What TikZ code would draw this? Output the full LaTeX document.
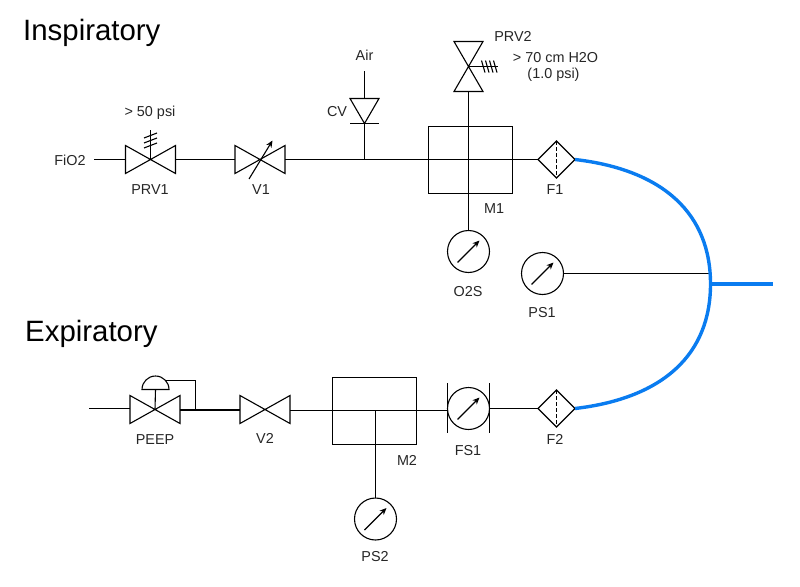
\documentclass[tikz,border=0pt]{standalone}
\usepackage{fontspec}
\setmainfont{Liberation Sans}
\usetikzlibrary{shapes.geometric,arrows.meta}
\definecolor{tubeblue}{HTML}{0A7CF0}
\tikzset{
  line/.style={line width=1.1pt,black},
  lbl/.style={font=\fontsize{14.4}{15}\selectfont,text=black!85,inner sep=0pt,align=center,anchor=base},
  ttl/.style={font=\fontsize{29.4}{32}\selectfont,text=black,inner sep=0pt,anchor=west},
  vbox/.style={minimum width=50pt,minimum height=28pt,inner sep=0pt,outer sep=0pt},
  vboxr/.style={minimum width=29pt,minimum height=50pt,inner sep=0pt,outer sep=0pt},
  mixer/.style={draw,line,inner sep=0pt,outer sep=0pt},
  gauge/.style={draw,line,circle,minimum size=42pt,inner sep=0pt,outer sep=0pt},
  filt/.style={draw,line,diamond,aspect=1,minimum size=37pt,inner sep=0pt,outer sep=0pt},
  tube/.style={line width=3.4pt,color=tubeblue},
  needle/.style={line,-{Stealth[length=7pt,width=6pt]}}
}
\newcommand{\vlv}[3]{% name, x, y
  \node[vbox] (#1) at (#2,#3) {};
  \draw[line,line join=miter] (#1.south west) -- (#1.north east) -- (#1.south east) -- (#1.north west) -- cycle;
}
\newcommand{\gaugeat}[3]{% name, x, y
  \node[gauge] (#1) at (#2,#3) {};
  \draw[needle] ([xshift=-11pt,yshift=-11pt]#1.center) -- ([xshift=11pt,yshift=11pt]#1.center);
}
\newcommand{\filterat}[3]{% name, x, y
  \node[filt] (#1) at (#2,#3) {};
  \draw[line,dash pattern=on 3.5pt off 2.5pt] (#1.north) -- (#1.south);
}
\begin{document}
\begin{tikzpicture}[x=1pt,y=-1pt]
\useasboundingbox (0,0) rectangle (800,586);
% titles
\node[ttl] at (23,33) {Inspiratory};
\node[ttl] at (25,334) {Expiratory};
% --- inspiratory valves
\coordinate (fio2) at (94,159.5);
\vlv{prv1}{150.5}{159.5}
\vlv{v1}{260}{159.5}
\draw[line] (prv1.center) -- (150.5,130);
\foreach \yy in {133,138,143}{\draw[line] (144,\yy+5) -- (157,\yy);}
\draw[line,-{Stealth[length=7pt,width=6pt]}] (249,179) -- (272.5,140.5);
\draw[line] (fio2) -- (prv1.west);
\draw[line] (prv1.east) -- (v1.west);
% M1 and through lines
\node[mixer,minimum width=84pt,minimum height=67pt] (m1) at (470.5,160) {};
\filterat{f1}{556.5}{159.5}
\draw[line] (v1.east) -- (f1.west);
% CV
\coordinate (air) at (364.5,71);
\node[vbox,minimum width=29pt,minimum height=25pt] (cv) at (364.5,111) {};
\draw[line] (cv.north west) -- (cv.north east) -- (cv.south) -- cycle;
\draw[line] (cv.south west) -- (cv.south east);
\draw[line] (air) -- (cv.north);
\coordinate (cvj) at (364.5,159.5);
\draw[line] (cv.south) -- (cvj);
% PRV2
\node[vboxr] (prv2) at (468.5,66.5) {};
\draw[line] (prv2.north west) -- (prv2.north east) -- (prv2.south west) -- (prv2.south east) -- cycle;
\coordinate (prv2s) at (498,66.5);
\draw[line] (prv2.center) -- (prv2s);
\foreach \xx in {481.5,485.5,489.5,493.5}{\draw[line] (\xx,60.5) -- (\xx+3.5,72.5);}
% O2S
\gaugeat{o2s}{468.5}{251.5}
\draw[line] (prv2.south) -- (o2s.north);
% PS1
\gaugeat{ps1}{542.5}{273.5}
% breathing circuit
\filterat{f2}{556.5}{408.5}
\coordinate (ywye) at (710.5,284);
\coordinate (pj) at (710,273.5);
\coordinate (out) at (773,284);
\draw[line] (ps1.east) -- (pj);
\draw[tube] (f1.east) .. controls (665,170) and (710.5,215) .. (ywye) .. controls (710.5,353) and (665,398) .. (f2.east);
\draw[tube] (ywye) -- (out);
% --- expiratory
\coordinate (exin) at (89,408.5);
\vlv{peep}{155}{409.5}
\vlv{v2}{265}{409.5}
\draw[line] (exin) -- (exin -| peep.west);
\draw[line,line width=2pt] (peep.east) -- (v2.west);
\node[inner sep=0pt,outer sep=0pt,minimum width=27pt,minimum height=14pt] (dome) at (155.5,382.5) {};
\draw[line] (dome.south west) arc[start angle=180,end angle=0,radius=13.5pt] -- cycle;
\draw[line] (dome.south) -- (peep.center);
\coordinate (fb) at (195.5,380.5);
\coordinate (fbd) at (195.5,409.5);
\draw[line] (166,380.5) -- (fb) -- (fbd);
% M2
\node[mixer,minimum width=84pt,minimum height=67pt] (m2) at (374.5,411) {};
\gaugeat{fs1}{468.5}{408.5}
\coordinate (fsl) at (447.5,410.5);
\draw[line] (v2.east |- fsl) -- (fsl);
\draw[line] (447.5,383) -- (447.5,433);
\draw[line] (489.5,383) -- (489.5,433);
\draw[line] (fs1.east) -- (f2.west);
\gaugeat{ps2}{375.5}{519}
\coordinate (m2j) at (375.5,410.5);
\draw[line] (m2j) -- (ps2.north);
% labels
\node[lbl] (lfio2) at (70,165.3) {FiO2};
\node[lbl] (lp50) at (150,116.5) {> 50 psi};
\node[lbl] (lprv1) at (150,194.3) {PRV1};
\node[lbl] (lv1) at (261,194.3) {V1};
\node[lbl] (lair) at (364.5,60.5) {Air};
\node[lbl] (lcv) at (337,116.5) {CV};
\node[lbl] (lprv2) at (513,42) {PRV2};
\node[lbl] (l70a) at (555.5,62.7) {> 70 cm H2O};
\node[lbl] (l70b) at (553.5,78.2) {(1.0 psi)};
\node[lbl] (lm1) at (494,213) {M1};
\node[lbl] (lf1) at (555,194.3) {F1};
\node[lbl] (lo2s) at (468,296) {O2S};
\node[lbl] (lps1) at (542,317) {PS1};
\node[lbl] (lpeep) at (155,444) {PEEP};
\node[lbl] (lv2) at (265,443.5) {V2};
\node[lbl] (lm2) at (407,465.7) {M2};
\node[lbl] (lfs1) at (468,455) {FS1};
\node[lbl] (lf2) at (555,444.3) {F2};
\node[lbl] (lps2) at (375,561) {PS2};
\end{tikzpicture}
\end{document}
